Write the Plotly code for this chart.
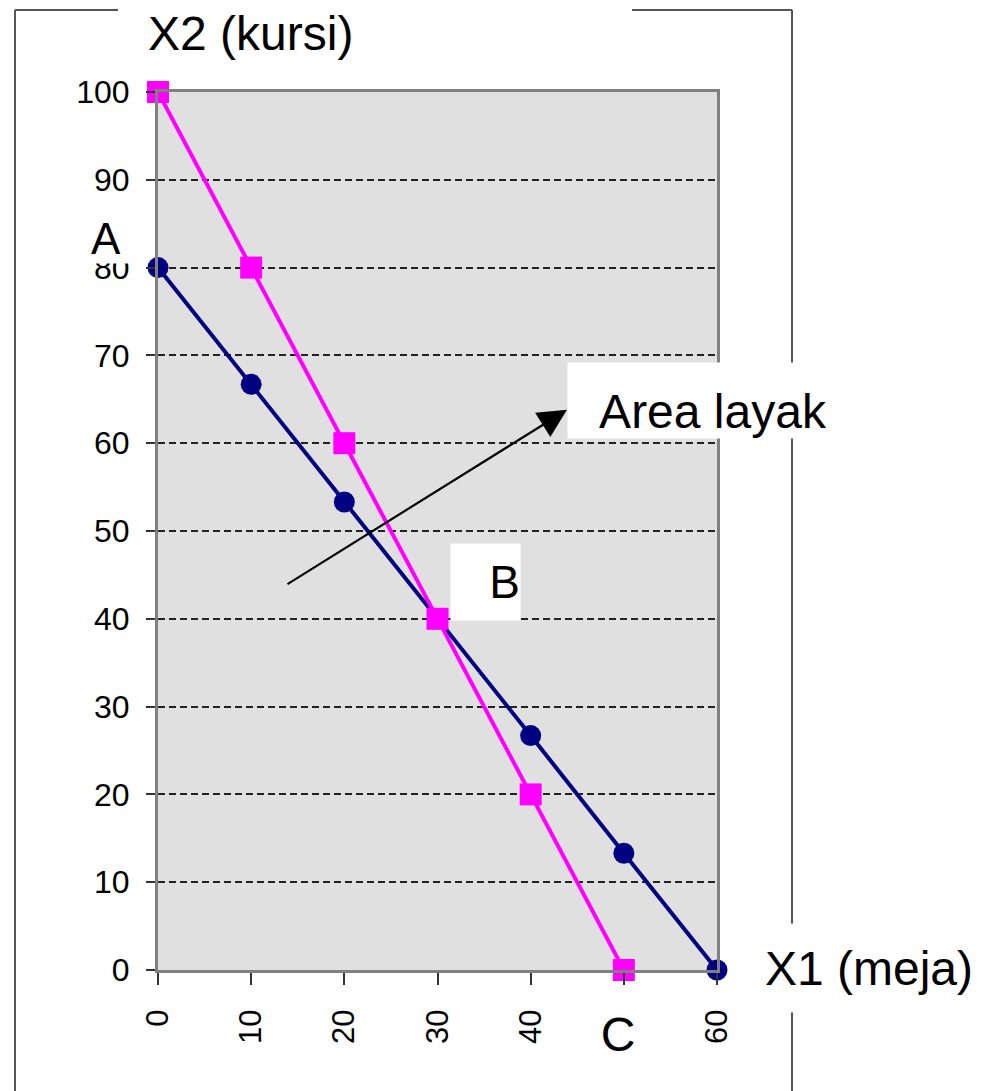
import plotly.graph_objects as go

# ---------------- data ----------------
x1_tick_values = [0, 10, 20, 30, 40, 50, 60]
x2_tick_values = [0, 10, 20, 30, 40, 50, 60, 70, 80, 90, 100]

constraint1_x1 = [0, 10, 20, 30, 40, 50, 60]
constraint1_x2 = [80, 66.7, 53.3, 40, 26.7, 13.3, 0]

constraint2_x1 = [0, 10, 20, 30, 40, 50]
constraint2_x2 = [100, 80, 60, 40, 20, 0]

# ---------------- layout helpers ----------------
W, H = 988, 1091
L, R, T, B = 158, 717, 92, 970


def px(xp):
    return (xp - L) / (R - L)


def py(yp):
    return (B - yp) / (B - T)


FONT = "Liberation Sans, Arial, sans-serif"

fig = go.Figure()

fig.add_trace(go.Scatter(
    x=constraint1_x1, y=constraint1_x2, mode="lines+markers",
    line=dict(color="#000080", width=4),
    marker=dict(symbol="circle", size=21, color="#000080"),
    cliponaxis=False, hoverinfo="skip",
))
fig.add_trace(go.Scatter(
    x=constraint2_x1, y=constraint2_x2, mode="lines+markers",
    line=dict(color="#ff00ff", width=4),
    marker=dict(symbol="square", size=22, color="#ff00ff"),
    cliponaxis=False, hoverinfo="skip",
))

# outer frame lines
frame_col = "#555555"
shapes = [
    dict(type="line", xref="paper", yref="paper", x0=px(15), x1=px(15), y0=py(10), y1=py(1091)),
    dict(type="line", xref="paper", yref="paper", x0=px(15), x1=px(118), y0=py(10), y1=py(10)),
    dict(type="line", xref="paper", yref="paper", x0=px(632), x1=px(792), y0=py(10), y1=py(10)),
    dict(type="line", xref="paper", yref="paper", x0=px(792), x1=px(792), y0=py(10), y1=py(1091)),
]
for s in shapes:
    s["line"] = dict(color=frame_col, width=2)
    s["layer"] = "above"

annotations = [
    dict(text="X2 (kursi)", xref="paper", yref="paper", x=px(146), y=py(34),
         xanchor="left", yanchor="middle", showarrow=False,
         font=dict(size=48, color="black", family=FONT)),
    dict(text="X1 (meja)", xref="paper", yref="paper", x=px(869), y=py(968),
         xanchor="center", yanchor="middle", showarrow=False, width=240, height=88,
         bgcolor="white", borderpad=0,
         font=dict(size=48, color="black", family=FONT)),
    dict(text="", x=43.9, y=63.8, ax=13.74, ay=43.85, xref="x", yref="y",
         axref="x", ayref="y", showarrow=True, arrowhead=2, arrowsize=2.6,
         arrowwidth=2.2, arrowcolor="black", standoff=0),
    dict(text="Area layak", xref="paper", yref="paper", x=px(567), y=py(362),
         xanchor="left", yanchor="top", showarrow=False, width=290, height=75,
         bgcolor="white", borderpad=0, valign="bottom", align="center",
         font=dict(size=48, color="black", family=FONT)),
    dict(text="A", xref="paper", yref="paper", x=px(82), y=py(212),
         xanchor="left", yanchor="top", showarrow=False, width=46, height=50,
         bgcolor="white", borderpad=0,
         font=dict(size=44, color="black", family=FONT)),
    dict(text="B", xref="paper", yref="paper", x=px(450), y=py(543),
         xanchor="left", yanchor="top", showarrow=False, width=69, height=76,
         bgcolor="white", borderpad=0, align="right",
         font=dict(size=46, color="black", family=FONT)),
    dict(text="C", xref="paper", yref="paper", x=px(590), y=py(998),
         xanchor="left", yanchor="top", showarrow=False, width=54, height=70,
         bgcolor="white", borderpad=0,
         font=dict(size=48, color="black", family=FONT)),
]

fig.update_layout(
    width=W, height=H,
    margin=dict(l=L, r=W - R, t=T, b=H - B, pad=0),
    plot_bgcolor="#e0e0e0", paper_bgcolor="white",
    showlegend=False,
    font=dict(family=FONT, color="black"),
    shapes=shapes, annotations=annotations,
    xaxis=dict(
        range=[0, 60], tickmode="array", tickvals=x1_tick_values,
        ticktext=[str(v) for v in x1_tick_values],
        ticks="outside", ticklen=12, tickwidth=1.5, tickcolor="#333333",
        tickangle=-90, tickfont=dict(size=31, color="black", family=FONT),
        ticklabelstandoff=12,
        showline=True, linecolor="#808080", linewidth=3, mirror=True,
        showgrid=False, zeroline=False, fixedrange=True,
    ),
    xaxis2=dict(
        range=[0, 60], overlaying="x", anchor="y", side="bottom",
        tickmode="array", tickvals=x1_tick_values, showticklabels=False,
        ticks="inside", ticklen=8, tickwidth=1.5, tickcolor="#333333",
        showline=False, showgrid=False, zeroline=False,
    ),
    yaxis=dict(
        range=[0, 100], tickmode="array", tickvals=x2_tick_values,
        ticktext=[str(v) for v in x2_tick_values],
        ticks="outside", ticklen=9, tickwidth=1.5, tickcolor="#333333",
        tickfont=dict(size=32, color="black", family=FONT),
        ticklabelstandoff=10,
        showline=True, linecolor="#808080", linewidth=3, mirror=True,
        showgrid=True, gridcolor="#222222", gridwidth=2, griddash="7px,4px",
        zeroline=False, fixedrange=True,
    ),
)

fig.write_html("out.html")
